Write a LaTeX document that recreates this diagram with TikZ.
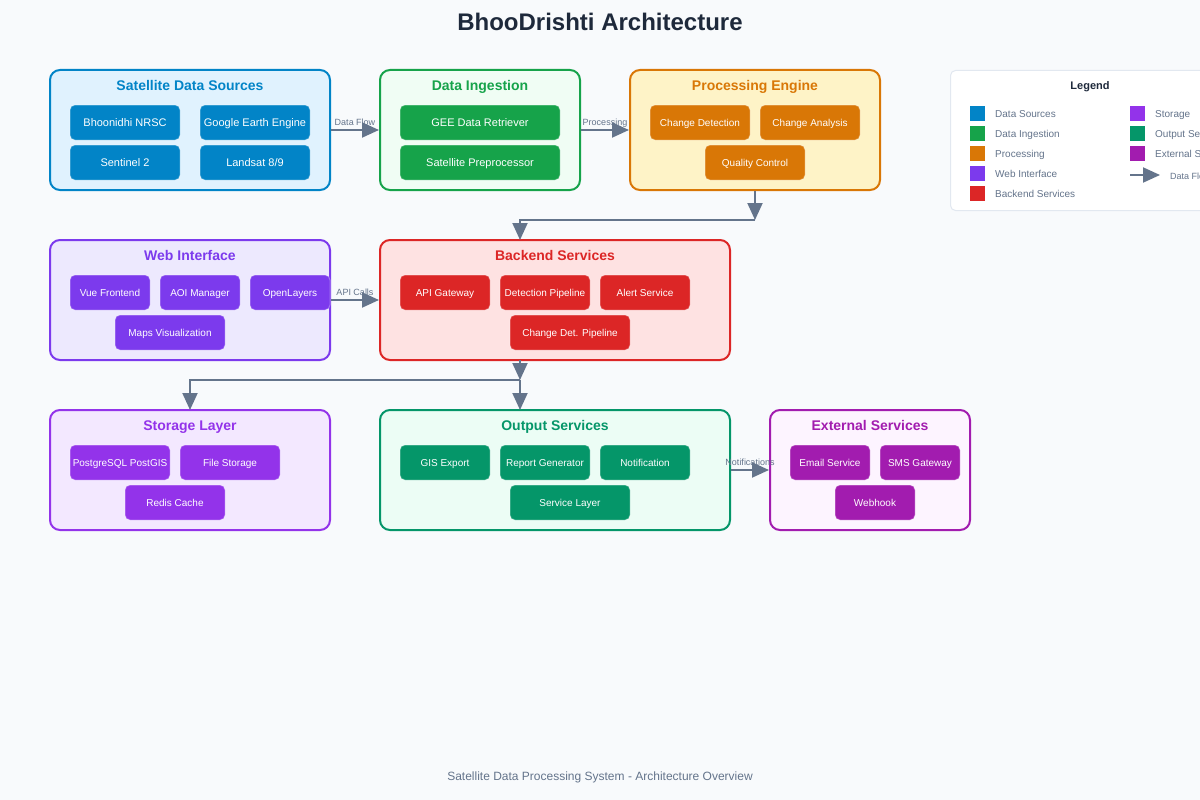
\documentclass[tikz,border=0pt]{standalone}
\usepackage{fontspec}
\setmainfont{Liberation Sans}
\usetikzlibrary{arrows.meta}
\definecolor{bg}{HTML}{F8FAFC}
\definecolor{ttl}{HTML}{1E293B}
\definecolor{slate}{HTML}{64748B}
\definecolor{lgb}{HTML}{E2E8F0}
\definecolor{cA}{HTML}{0284C7}\definecolor{fA}{HTML}{E0F2FE}
\definecolor{cB}{HTML}{16A34A}\definecolor{fB}{HTML}{F0FDF4}
\definecolor{cC}{HTML}{D97706}\definecolor{fC}{HTML}{FEF3C7}
\definecolor{cD}{HTML}{7C3AED}\definecolor{fD}{HTML}{EDE9FE}
\definecolor{cE}{HTML}{DC2626}\definecolor{fE}{HTML}{FEE2E2}
\definecolor{cF}{HTML}{9333EA}\definecolor{fF}{HTML}{F3E8FF}
\definecolor{cG}{HTML}{059669}\definecolor{fG}{HTML}{ECFDF5}
\definecolor{cH}{HTML}{A21CAF}\definecolor{fH}{HTML}{FDF4FF}
\newcommand{\fs}[1]{\fontsize{#1}{#1}\selectfont}
\tikzset{
  fz/.style={font=\fs{#1}, text height=0.72*#1pt, text depth=0pt, inner sep=0pt},
  fzb/.style={font=\fs{#1}\bfseries, text height=0.72*#1pt, text depth=0pt, inner sep=0pt},
  grp/.style 2 args={draw=#1, fill=#2, line width=2pt, rounded corners=10pt, inner sep=0pt},
  gtitle/.style={text=#1, fzb=14},
  item/.style={fill=#1, draw=white, draw opacity=0.3, line width=1pt, rounded corners=5pt, text=white, minimum height=35pt},
  arr/.style={draw=slate, line width=2pt, -{Triangle[length=17pt,width=15pt]}},
  clabel/.style={text=slate, fz=9},
  lsq/.style={fill=#1, minimum size=15pt, inner sep=0pt},
  ltext/.style={text=slate, fz=10, anchor=west},
}
\begin{document}
\begin{tikzpicture}[x=1pt,y=-1pt]
\fill[bg] (0,0) rectangle (1200,800);
\useasboundingbox (0,0) rectangle (1200,800);
\node[text=ttl, fzb=24] (title) at (600,22) {BhooDrishti Architecture};

% Satellite Data Sources
\node[grp={cA}{fA}, minimum width=280pt, minimum height=120pt] (src) at (190,130) {};
\node[gtitle=cA] (srcT) at (190,85) {Satellite Data Sources};
\node[item=cA, minimum width=110pt, fz=11] (s1) at (125,122.5) {Bhoonidhi NRSC};
\node[item=cA, minimum width=110pt, fz=11] (s2) at (255,122.5) {Google Earth Engine};
\node[item=cA, minimum width=110pt, fz=11] (s3) at (125,162.5) {Sentinel 2};
\node[item=cA, minimum width=110pt, fz=11] (s4) at (255,162.5) {Landsat 8/9};

% Data Ingestion
\node[grp={cB}{fB}, minimum width=200pt, minimum height=120pt] (ing) at (480,130) {};
\node[gtitle=cB] (ingT) at (480,85) {Data Ingestion};
\node[item=cB, minimum width=160pt, fz=11] (i1) at (480,122.5) {GEE Data Retriever};
\node[item=cB, minimum width=160pt, fz=11] (i2) at (480,162.5) {Satellite Preprocessor};

% Processing Engine
\node[grp={cC}{fC}, minimum width=250pt, minimum height=120pt] (proc) at (755,130) {};
\node[gtitle=cC] (procT) at (755,85) {Processing Engine};
\node[item=cC, minimum width=100pt, fz=10] (p1) at (700,122.5) {Change Detection};
\node[item=cC, minimum width=100pt, fz=10] (p2) at (810,122.5) {Change Analysis};
\node[item=cC, minimum width=100pt, fz=10] (p3) at (755,162.5) {Quality Control};

% Web Interface
\node[grp={cD}{fD}, minimum width=280pt, minimum height=120pt] (web) at (190,300) {};
\node[gtitle=cD] (webT) at (190,255) {Web Interface};
\node[item=cD, minimum width=80pt, fz=10] (w1) at (110,292.5) {Vue Frontend};
\node[item=cD, minimum width=80pt, fz=10] (w2) at (200,292.5) {AOI Manager};
\node[item=cD, minimum width=80pt, fz=10] (w3) at (290,292.5) {OpenLayers};
\node[item=cD, minimum width=110pt, fz=10] (w4) at (170,332.5) {Maps Visualization};

% Backend Services
\node[grp={cE}{fE}, minimum width=350pt, minimum height=120pt] (back) at (555,300) {};
\node[gtitle=cE] (backT) at (555,255) {Backend Services};
\node[item=cE, minimum width=90pt, fz=10] (b1) at (445,292.5) {API Gateway};
\node[item=cE, minimum width=90pt, fz=10] (b2) at (545,292.5) {Detection Pipeline};
\node[item=cE, minimum width=90pt, fz=10] (b3) at (645,292.5) {Alert Service};
\node[item=cE, minimum width=120pt, fz=10] (b4) at (570,332.5) {Change Det. Pipeline};

% Storage Layer
\node[grp={cF}{fF}, minimum width=280pt, minimum height=120pt] (stor) at (190,470) {};
\node[gtitle=cF] (storT) at (190,425) {Storage Layer};
\node[item=cF, minimum width=100pt, fz=10] (st1) at (120,462.5) {PostgreSQL PostGIS};
\node[item=cF, minimum width=100pt, fz=10] (st2) at (230,462.5) {File Storage};
\node[item=cF, minimum width=100pt, fz=10] (st3) at (175,502.5) {Redis Cache};

% Output Services
\node[grp={cG}{fG}, minimum width=350pt, minimum height=120pt] (out) at (555,470) {};
\node[gtitle=cG] (outT) at (555,425) {Output Services};
\node[item=cG, minimum width=90pt, fz=10] (o1) at (445,462.5) {GIS Export};
\node[item=cG, minimum width=90pt, fz=10] (o2) at (545,462.5) {Report Generator};
\node[item=cG, minimum width=90pt, fz=10] (o3) at (645,462.5) {Notification};
\node[item=cG, minimum width=120pt, fz=10] (o4) at (570,502.5) {Service Layer};

% External Services
\node[grp={cH}{fH}, minimum width=200pt, minimum height=120pt] (ext) at (870,470) {};
\node[gtitle=cH] (extT) at (870,425) {External Services};
\node[item=cH, minimum width=80pt, fz=10] (e1) at (830,462.5) {Email Service};
\node[item=cH, minimum width=80pt, fz=10] (e2) at (920,462.5) {SMS Gateway};
\node[item=cH, minimum width=80pt, fz=10] (e3) at (875,502.5) {Webhook};

% Connectors
\draw[arr] (src.east) -- (ing.west);
\node[clabel] (l1) at (355,122) {Data Flow};
\draw[arr] (ing.east) -- (proc.west);
\node[clabel] (l2) at (605,122) {Processing};
\coordinate (j1) at (755,220);
\coordinate (bt) at (520,240);
\draw[arr] (proc.south) -- (j1);
\draw[arr] (j1) -| (bt);
\draw[arr] (web.east) -- (back.west);
\node[clabel] (l3) at (355,292) {API Calls};
\coordinate (bb) at (520,360);
\coordinate (j2) at (520,380);
\coordinate (st) at (190,410);
\coordinate (ot) at (520,410);
\draw[arr] (bb) -- (j2);
\draw[arr] (j2) -| (st);
\draw[arr] (j2) -- (ot);
\draw[arr] (out.east) -- (ext.west);
\node[clabel] (l4) at (750,462) {Notifications};

% Legend
\node[draw=lgb, fill=white, line width=1pt, rounded corners=5pt, minimum width=270pt, minimum height=140pt, anchor=north west] (leg) at (950,70) {};
\node[text=ttl, fzb=11] (legT) at (1090,86) {Legend};
\node[lsq=cA] (q1) at (977.5,113.5) {}; \node[ltext] (t1) at (995,113.5) {Data Sources};
\node[lsq=cB] (q2) at (977.5,133.5) {}; \node[ltext] (t2) at (995,133.5) {Data Ingestion};
\node[lsq=cC] (q3) at (977.5,153.5) {}; \node[ltext] (t3) at (995,153.5) {Processing};
\node[lsq=cD] (q4) at (977.5,173.5) {}; \node[ltext] (t4) at (995,173.5) {Web Interface};
\node[lsq=cE] (q5) at (977.5,193.5) {}; \node[ltext] (t5) at (995,193.5) {Backend Services};
\node[lsq=cF] (q6) at (1137.5,113.5) {}; \node[ltext] (t6) at (1155,113.5) {Storage};
\node[lsq=cG] (q7) at (1137.5,133.5) {}; \node[ltext] (t7) at (1155,133.5) {Output Services};
\node[lsq=cH] (q8) at (1137.5,153.5) {}; \node[ltext] (t8) at (1155,153.5) {External Services};
\coordinate (la) at (1130,175);
\coordinate (lb) at (1160,175);
\draw[arr] (la) -- (lb);
\node[ltext, fz=9] (t9) at (1170,176) {Data Flow};

\node[text=slate, fz=12] (foot) at (600,776) {Satellite Data Processing System - Architecture Overview};
\end{tikzpicture}
\end{document}
